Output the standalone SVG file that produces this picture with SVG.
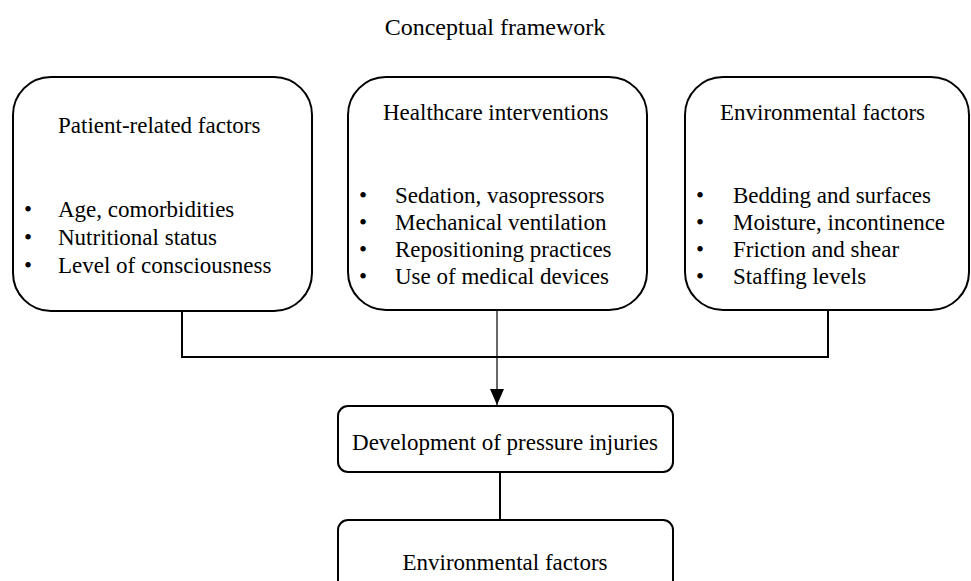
<svg xmlns="http://www.w3.org/2000/svg" width="971" height="581" viewBox="0 0 971 581">
<style>
text{font-family:"Liberation Serif","Times New Roman",serif;font-size:23px;fill:#000}
.box{fill:#fff;stroke:#000;stroke-width:2}
.ln{fill:none;stroke:#000;stroke-width:2}
.thin{fill:none;stroke:#000;stroke-width:1.2}
.c{text-anchor:middle}
</style>
<defs>
<marker id="arr" markerWidth="16" markerHeight="14" refX="16" refY="7" orient="auto" markerUnits="userSpaceOnUse" viewBox="0 0 16 14">
<path d="M0,0 L16,7 L0,14 Z" fill="#000"/>
</marker>
</defs>
<rect width="971" height="581" fill="#fff"/>
<text id="title" x="495" y="35" class="c" style="font-size:24px">Conceptual framework</text>
<g id="connectors">
<path class="ln" d="M182,311 V357 H828 V311"/>
<line class="thin" x1="497" y1="311" x2="497" y2="405" marker-end="url(#arr)"/>
<line class="ln" x1="500" y1="472" x2="500" y2="520"/>
</g>
<g id="patient">
<rect class="box" x="13" y="77" width="299" height="234" rx="38" ry="38"/>
<text x="58" y="133">Patient-related factors</text>
<text x="24" y="217">•</text><text x="58" y="217">Age, comorbidities</text>
<text x="24" y="245">•</text><text x="58" y="245">Nutritional status</text>
<text x="24" y="273">•</text><text x="58" y="273">Level of consciousness</text>
</g>
<g id="healthcare">
<rect class="box" x="348" y="77" width="299" height="233" rx="38" ry="38"/>
<text x="383" y="120">Healthcare interventions</text>
<text x="359" y="203">•</text><text x="395" y="203">Sedation, vasopressors</text>
<text x="359" y="230">•</text><text x="395" y="230">Mechanical ventilation</text>
<text x="359" y="257">•</text><text x="395" y="257">Repositioning practices</text>
<text x="359" y="284">•</text><text x="395" y="284">Use of medical devices</text>
</g>
<g id="environmental">
<rect class="box" x="685" y="77" width="284" height="233" rx="38" ry="38"/>
<text x="720" y="120">Environmental factors</text>
<text x="696" y="203">•</text><text x="733" y="203">Bedding and surfaces</text>
<text x="696" y="230">•</text><text x="733" y="230">Moisture, incontinence</text>
<text x="696" y="257">•</text><text x="733" y="257">Friction and shear</text>
<text x="696" y="284">•</text><text x="733" y="284">Staffing levels</text>
</g>
<g id="development">
<rect class="box" x="338" y="406" width="335" height="66" rx="10" ry="10"/>
<text x="505" y="450" class="c">Development of pressure injuries</text>
</g>
<g id="environmental2">
<rect class="box" x="338" y="520" width="335" height="90" rx="10" ry="10"/>
<text x="505" y="570" class="c">Environmental factors</text>
</g>
</svg>
